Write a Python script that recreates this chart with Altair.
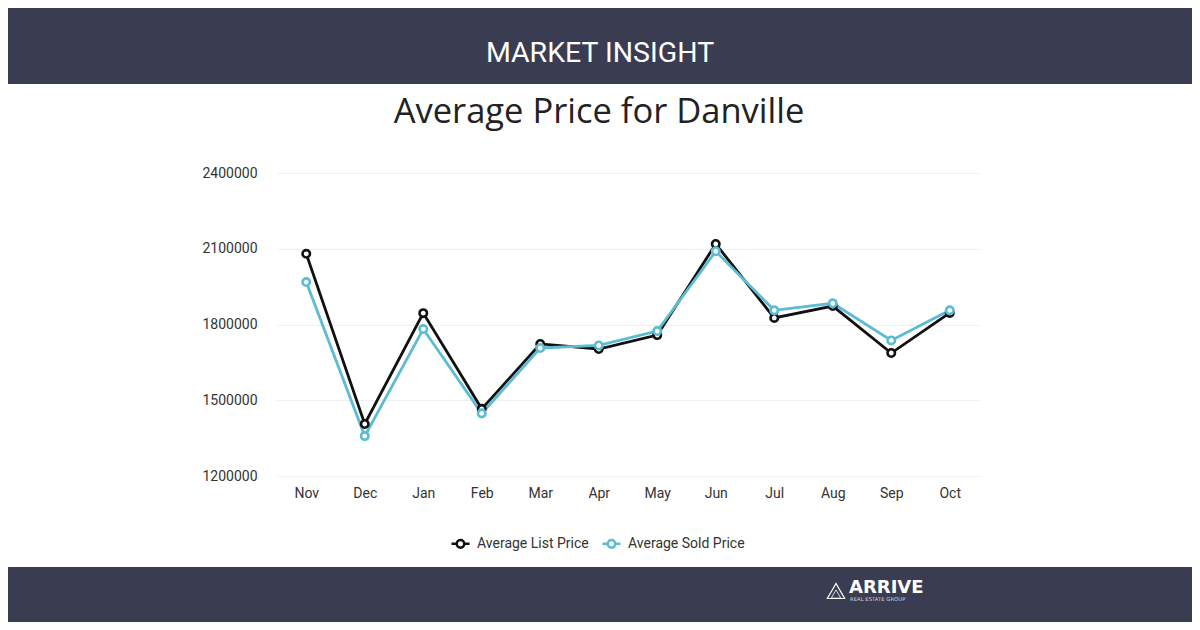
import altair as alt
import pandas as pd

months = ["Nov", "Dec", "Jan", "Feb", "Mar", "Apr", "May", "Jun", "Jul", "Aug", "Sep", "Oct"]
list_price = [2080000, 1406000, 1845000, 1466000, 1723000, 1703000, 1758000, 2119000, 1826000, 1873000, 1687000, 1846000]
sold_price = [1968000, 1358000, 1782000, 1448000, 1707000, 1717000, 1774000, 2090000, 1856000, 1884000, 1737000, 1856000]
series_names = ["Average List Price", "Average Sold Price"]
y_ticks = [1200000, 1500000, 1800000, 2100000, 2400000]

NAVY = "#3a3c52"
CYAN = "#5bbcd3"
BLACK = "#111111"

rows = []
for m, v in zip(months, list_price):
    rows.append({"month": m, "series": series_names[0], "value": v})
for m, v in zip(months, sold_price):
    rows.append({"month": m, "series": series_names[1], "value": v})
df = pd.DataFrame(rows)

W, H = 702, 303
PAD_L, PAD_T = 269, 165
TOTAL_W, TOTAL_H = 1184, 614

x_enc = alt.X("month:N", sort=months, scale=alt.Scale(type="point", padding=0.5),
              axis=alt.Axis(title=None, labelAngle=0, ticks=False, domain=False, grid=False,
                            labelFont="Roboto", labelFontSize=14, labelColor="#333333",
                            labelPadding=10))
y_enc = alt.Y("value:Q", scale=alt.Scale(domain=[1200000, 2400000], nice=False, zero=False),
              axis=alt.Axis(title=None, values=y_ticks, format="d", ticks=False, domain=False,
                            grid=True, gridColor="#eeeeee", gridWidth=1,
                            labelFont="Roboto", labelFontSize=14, labelColor="#333333",
                            labelPadding=20))
legend_symbol = ("M-1,0L-0.42,0 M0.42,0L1,0 "
                 "M0.42,0A0.42,0.42 0 1 1 -0.42,0A0.42,0.42 0 1 1 0.42,0Z")
color_enc = alt.Color("series:N",
                      scale=alt.Scale(domain=series_names, range=[BLACK, CYAN]),
                      legend=alt.Legend(title=None, orient="none", direction="horizontal",
                                        legendX=173, legendY=360,
                                        symbolType=legend_symbol, symbolSize=324,
                                        symbolStrokeWidth=2.5, symbolFillColor="white",
                                        labelFont="Roboto", labelFontSize=14,
                                        labelColor="#333333", labelOffset=6,
                                        columnPadding=8))

base = alt.Chart(df)
lines = base.mark_line(strokeWidth=2.8).encode(x=x_enc, y=y_enc, color=color_enc)
points = base.mark_point(shape="circle", filled=True, fill="white", size=55,
                         strokeWidth=2.6, opacity=1).encode(
    x=x_enc, y=y_enc, stroke=alt.Stroke("series:N", scale=alt.Scale(domain=series_names, range=[BLACK, CYAN]), legend=None))

one = pd.DataFrame({"k": [0]})
header = alt.Chart(one).mark_rect(color=NAVY).encode(
    x=alt.value(-PAD_L), x2=alt.value(TOTAL_W - PAD_L), y=alt.value(-PAD_T), y2=alt.value(76 - PAD_T))
footer = alt.Chart(one).mark_rect(color=NAVY).encode(
    x=alt.value(-PAD_L), x2=alt.value(TOTAL_W - PAD_L), y=alt.value(559 - PAD_T), y2=alt.value(TOTAL_H - PAD_T))

header_text = alt.Chart(pd.DataFrame({"t": ["MARKET INSIGHT"]})).mark_text(
    font="Roboto", fontSize=28.5, color="white", align="center", baseline="middle").encode(
    x=alt.value(323), y=alt.value(-120), text="t:N")
title_text = alt.Chart(pd.DataFrame({"t": ["Average Price for Danville"]})).mark_text(
    font="Open Sans", fontSize=34.5, color="#222222", align="center", baseline="middle").encode(
    x=alt.value(322), y=alt.value(-60), text="t:N")

logo_tri = alt.Chart(one).mark_point(shape="triangle-up", filled=False, color="white",
                                     size=300, strokeWidth=1.2, opacity=1).encode(
    x=alt.value(559), y=alt.value(418))
logo_tri2 = alt.Chart(one).mark_point(shape="triangle-up", filled=False, color="white",
                                      size=90, strokeWidth=1, opacity=0.8).encode(
    x=alt.value(559), y=alt.value(421))
logo_text = alt.Chart(pd.DataFrame({"t": ["ARRIVE"]})).mark_text(
    font="DejaVu Sans", fontSize=18, fontWeight="bold", color="white", align="left",
    baseline="middle").encode(x=alt.value(572), y=alt.value(415), text="t:N")
logo_sub = alt.Chart(pd.DataFrame({"t": ["REAL ESTATE GROUP"]})).mark_text(
    font="DejaVu Sans", fontSize=5.3, color="#cfd0d8", align="left",
    baseline="middle").encode(x=alt.value(573), y=alt.value(426), text="t:N")

chart = alt.layer(header, footer, header_text, title_text, lines, points,
                  logo_tri, logo_tri2, logo_text, logo_sub).properties(
    width=W, height=H,
    autosize=alt.AutoSizeParams(type="none"),
    padding={"left": PAD_L, "top": PAD_T, "right": TOTAL_W - PAD_L - W, "bottom": TOTAL_H - PAD_T - H},
    background="white",
).configure_view(stroke=None)

chart.save("out.html", embed_options={"renderer": "svg", "actions": False})
